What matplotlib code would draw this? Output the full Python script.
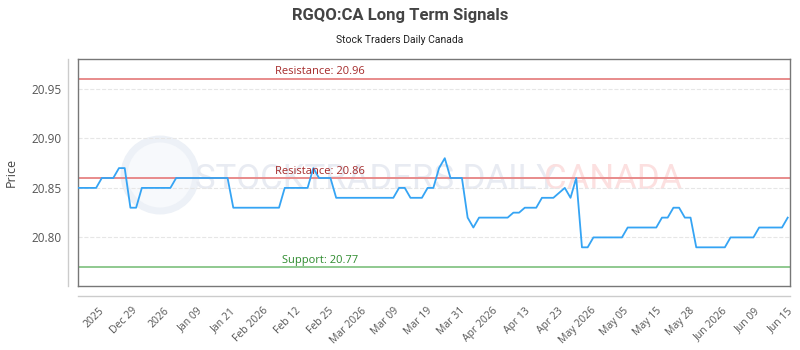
import matplotlib.pyplot as plt
import numpy as np
from matplotlib.patches import Circle
from matplotlib.transforms import IdentityTransform

# chart texts
title = 'RGQO:CA Long Term Signals'
subtitle = 'Stock Traders Daily Canada'

# price per trading day
price = [20.85, 20.85, 20.85, 20.85, 20.86, 20.86, 20.86, 20.87, 20.87, 20.83,
         20.83, 20.85, 20.85, 20.85, 20.85, 20.85, 20.85, 20.86, 20.86, 20.86,
         20.86, 20.86, 20.86, 20.86, 20.86, 20.86, 20.86, 20.83, 20.83, 20.83,
         20.83, 20.83, 20.83, 20.83, 20.83, 20.83, 20.85, 20.85, 20.85, 20.85,
         20.85, 20.87, 20.86, 20.86, 20.86, 20.84, 20.84, 20.84, 20.84, 20.84,
         20.84, 20.84, 20.84, 20.84, 20.84, 20.84, 20.85, 20.85, 20.84, 20.84,
         20.84, 20.85, 20.85, 20.87, 20.88, 20.86, 20.86, 20.86, 20.82, 20.81,
         20.82, 20.82, 20.82, 20.82, 20.82, 20.82, 20.825, 20.825, 20.83, 20.83,
         20.83, 20.84, 20.84, 20.84, 20.845, 20.85, 20.84, 20.86, 20.79, 20.79,
         20.80, 20.80, 20.80, 20.80, 20.80, 20.80, 20.81, 20.81, 20.81, 20.81,
         20.81, 20.81, 20.82, 20.82, 20.83, 20.83, 20.82, 20.82, 20.79, 20.79,
         20.79, 20.79, 20.79, 20.79, 20.80, 20.80, 20.80, 20.80, 20.80, 20.81,
         20.81, 20.81, 20.81, 20.81, 20.82]

tick_labels = ['2025', 'Dec 29', '2026', 'Jan 09', 'Jan 21', 'Feb 2026', 'Feb 12',
               'Feb 25', 'Mar 2026', 'Mar 09', 'Mar 19', 'Mar 31', 'Apr 2026',
               'Apr 13', 'Apr 23', 'May 2026', 'May 05', 'May 15', 'May 28',
               'Jun 2026', 'Jun 09', 'Jun 15']

resistance = [20.96, 20.86]
support = [20.77]

if __name__ == '__main__':
    fig = plt.figure(figsize=(8, 3.5), dpi=100)
    ax = fig.add_axes([0.0975, 0.183, 0.89, 0.648])

    x = np.arange(len(price))

    # faint watermark (logo ring in pixels so it stays round)
    ring = Circle((160, 175), 36, transform=IdentityTransform(),
                  fc='#f7f9fc', lw=5, ec='#edf1f7', zorder=0)
    ax.add_artist(ring)
    ax.text(0.165, 0.47, 'STOCKTRADERS DAILY', transform=ax.transAxes,
            fontsize=25, family='Roboto', color='#e8ebf2', va='center',
            ha='left', zorder=0)
    ax.text(0.655, 0.47, 'CANADA', transform=ax.transAxes,
            fontsize=25, family='Roboto', color='#fce0e0', va='center',
            ha='left', zorder=0)

    for lvl in resistance:
        ax.axhline(lvl, color='#e88b8b', lw=1.4, zorder=2)
        ax.text(0.34, lvl + 0.0015, 'Resistance: %.2f' % lvl,
                transform=ax.get_yaxis_transform(), ha='center', va='bottom',
                fontsize=8, color='#a52a2a', family='Open Sans', zorder=4)
    for lvl in support:
        ax.axhline(lvl, color='#8fc98f', lw=1.4, zorder=2)
        ax.text(0.34, lvl + 0.0015, 'Support: %.2f' % lvl,
                transform=ax.get_yaxis_transform(), ha='center', va='bottom',
                fontsize=8, color='#2e8b2e', family='Open Sans', zorder=4)

    ax.plot(x, price, color='#35a4f4', lw=1.3, zorder=3)

    ax.set_xlim(-0.17, len(price) - 1 + 0.4)
    ax.set_ylim(20.751, 20.98)
    ax.set_yticks([20.80, 20.85, 20.90, 20.95])
    ax.set_yticklabels(['20.80', '20.85', '20.90', '20.95'])
    ax.grid(axis='y', color='#e6e6e6', ls='--', lw=0.8)
    ax.set_axisbelow(True)

    tick_pos = np.linspace(3.4, 123.9, len(tick_labels))
    ax.set_xticks(tick_pos)
    ax.set_xticklabels(tick_labels, rotation=45, ha='right',
                       rotation_mode='anchor')
    ax.tick_params(axis='x', length=0, pad=14, labelsize=7.5,
                   labelcolor='#555555')
    ax.tick_params(axis='y', length=0, pad=12, labelsize=8.5,
                   labelcolor='#555555')
    for lab in ax.get_xticklabels() + ax.get_yticklabels():
        lab.set_family('Open Sans')

    for sp in ax.spines.values():
        sp.set_color('#777777')
        sp.set_linewidth(1.0)

    # offset outer axis lines
    ax.plot([-10 / 712, -10 / 712], [0, 1], transform=ax.transAxes,
            color='#cccccc', lw=1.0, clip_on=False)
    ax.plot([0, 1], [-10 / 227, -10 / 227], transform=ax.transAxes,
            color='#cccccc', lw=1.0, clip_on=False)

    ax.set_ylabel('Price', fontsize=9, color='#444444', family='Open Sans',
                  labelpad=10)

    fig.text(0.5, 0.955, title, ha='center', va='center', fontsize=12,
             fontweight='bold', color='#444444', family='Roboto')
    fig.text(0.5, 0.885, subtitle, ha='center', va='center', fontsize=7.5,
             color='#222222', family='Roboto')

    fig.savefig('out.png', dpi=100)
